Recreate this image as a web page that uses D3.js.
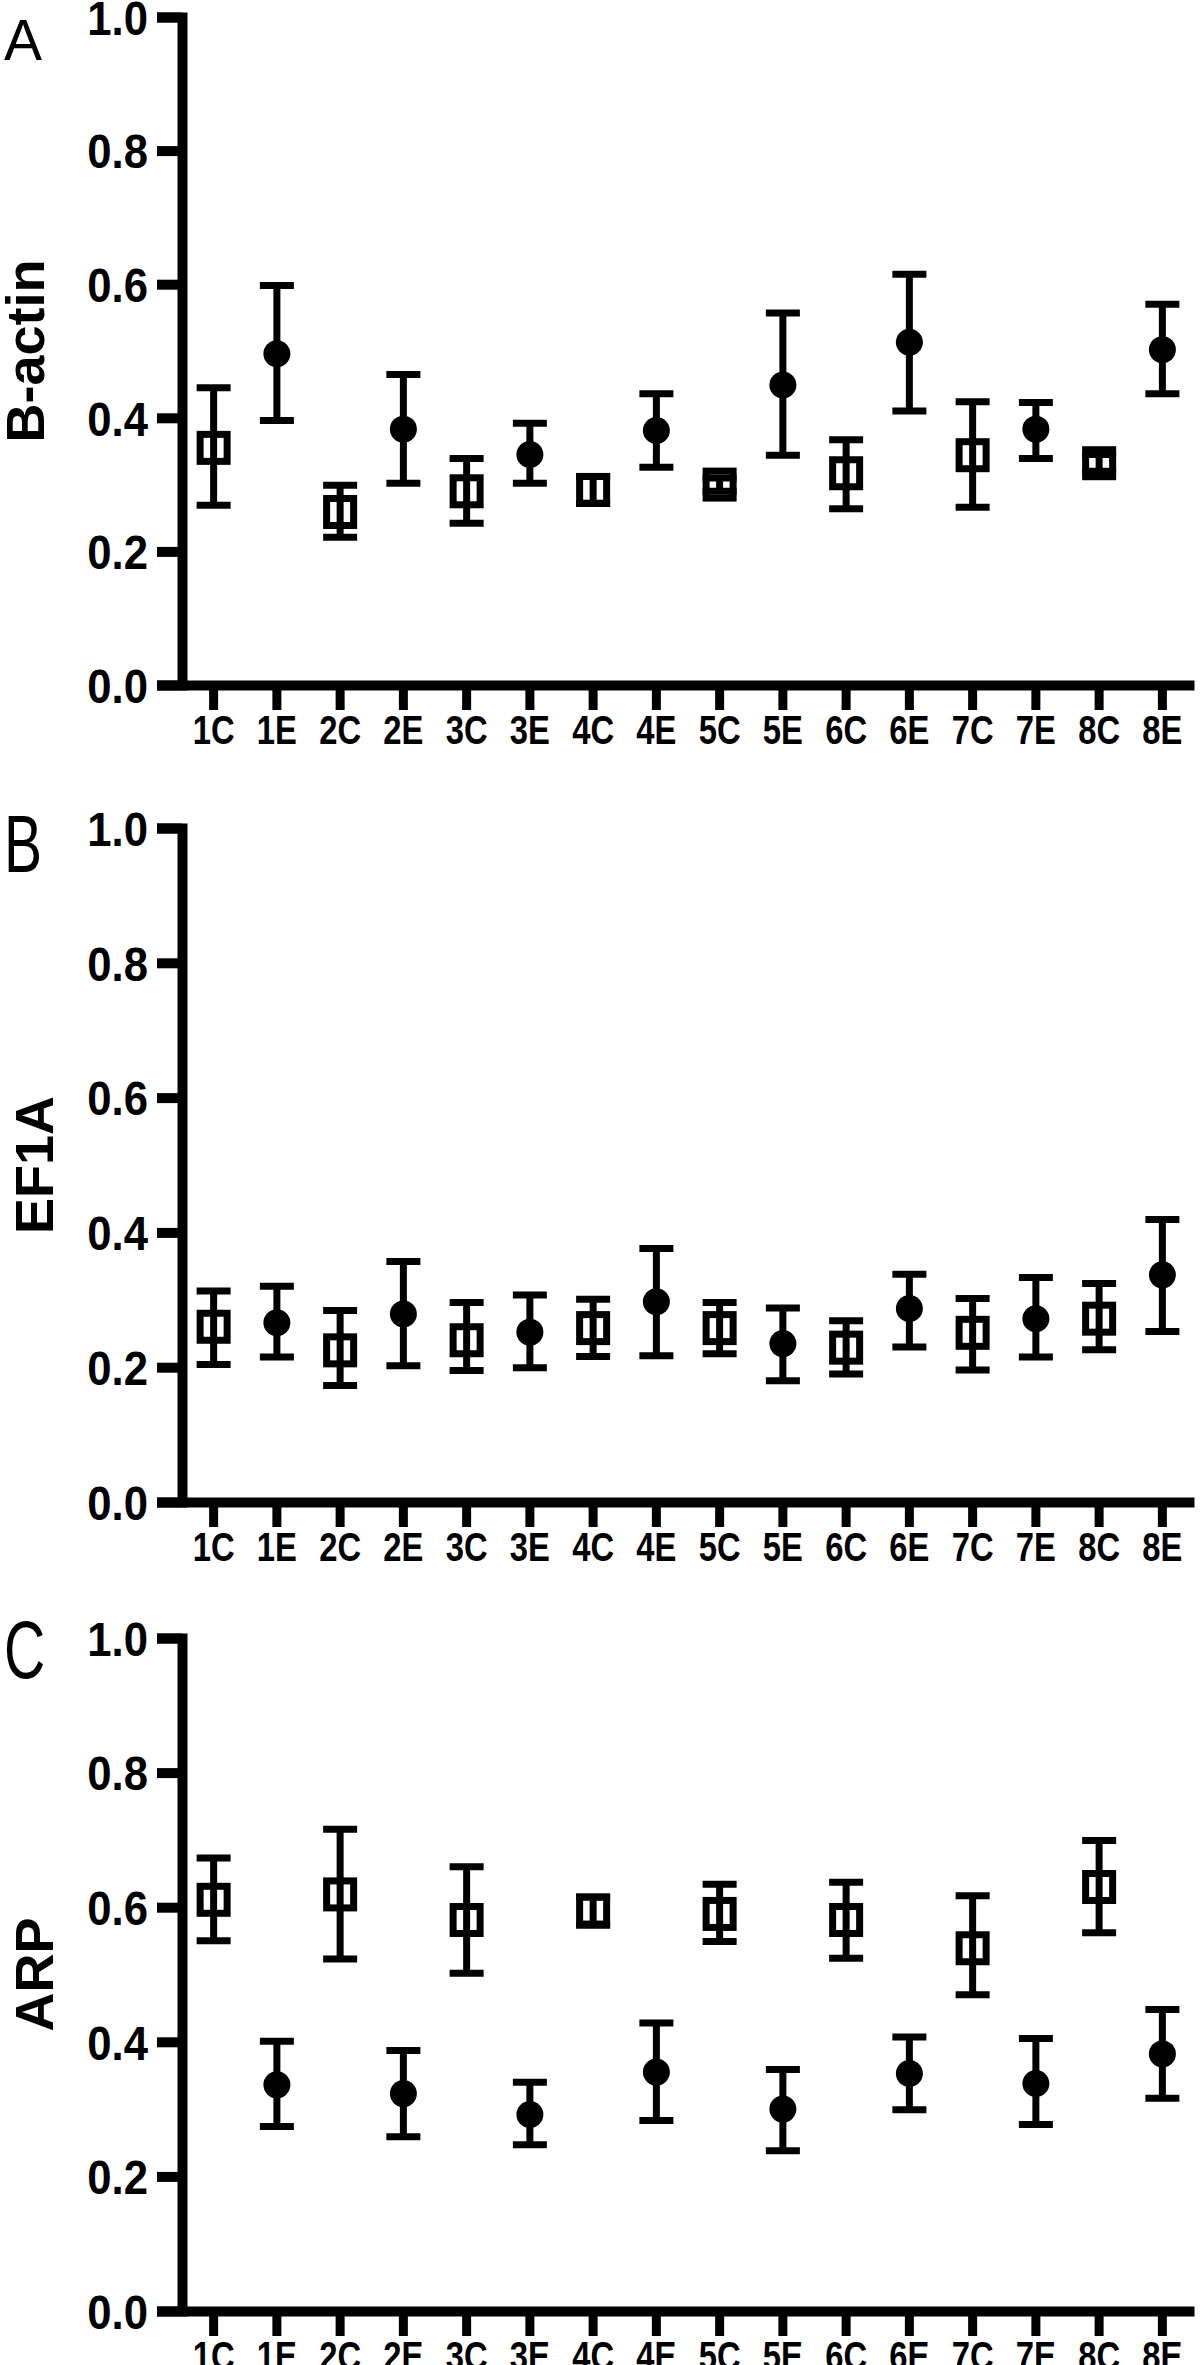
<!DOCTYPE html>
<html>
<head>
<meta charset="utf-8">
<script src="https://cdn.jsdelivr.net/npm/d3@7"></script>
<style>
  body { margin: 0; background: #fff; }
  svg text { font-family: Arial, 'Liberation Sans', Helvetica, sans-serif; fill: #000; }
</style>
</head>
<body>
<div id="chart-area"></div>
<script>
// samples: C = control (open square), E = treated (filled circle)
const categories = ['1C', '1E', '2C', '2E', '3C', '3E', '4C', '4E',
                    '5C', '5E', '6C', '6E', '7C', '7E', '8C', '8E']
const yTicks = [0, 0.2, 0.4, 0.6, 0.8, 1.0]

const actinMean = [0.355, 0.496, 0.259, 0.383, 0.290, 0.345, 0.292, 0.381,
                   0.300, 0.449, 0.317, 0.513, 0.344, 0.383, 0.332, 0.502]
const actinLow  = [0.269, 0.396, 0.221, 0.302, 0.242, 0.302, 0.272, 0.326,
                   0.290, 0.344, 0.264, 0.410, 0.266, 0.339, 0.320, 0.436]
const actinHigh = [0.445, 0.598, 0.299, 0.465, 0.339, 0.392, 0.312, 0.436,
                   0.310, 0.557, 0.367, 0.615, 0.424, 0.423, 0.345, 0.570]

const ef1aMean = [0.260, 0.266, 0.225, 0.279, 0.240, 0.252, 0.258, 0.297,
                  0.258, 0.235, 0.229, 0.287, 0.251, 0.272, 0.272, 0.337]
const ef1aLow  = [0.204, 0.215, 0.173, 0.202, 0.195, 0.199, 0.216, 0.217,
                  0.220, 0.180, 0.190, 0.230, 0.196, 0.215, 0.226, 0.253]
const ef1aHigh = [0.313, 0.320, 0.284, 0.357, 0.296, 0.307, 0.301, 0.376,
                  0.296, 0.288, 0.269, 0.338, 0.302, 0.333, 0.324, 0.419]

const arpMean = [0.611, 0.336, 0.619, 0.323, 0.581, 0.292, 0.595, 0.355,
                 0.590, 0.300, 0.581, 0.353, 0.539, 0.338, 0.630, 0.382]
const arpLow  = [0.550, 0.274, 0.523, 0.259, 0.502, 0.247, 0.573, 0.283,
                 0.549, 0.238, 0.524, 0.299, 0.470, 0.277, 0.562, 0.316]
const arpHigh = [0.673, 0.401, 0.716, 0.387, 0.660, 0.340, 0.615, 0.428,
                 0.634, 0.359, 0.637, 0.407, 0.617, 0.405, 0.699, 0.448]

// layout of the three stacked panels
const panels = [
    { letter: 'A', title: 'B-actin', mean: actinMean, low: actinLow, high: actinHigh,
      top: 17, bottom: 685, titleX: 44, letterY: 60, letterScale: 1.02 },
    { letter: 'B', title: 'EF1A', mean: ef1aMean, low: ef1aLow, high: ef1aHigh,
      top: 828, bottom: 1502, titleX: 53, letterY: 872, letterScale: 1.42 },
    { letter: 'C', title: 'ARP', mean: arpMean, low: arpLow, high: arpHigh,
      top: 1638, bottom: 2311, titleX: 53, letterY: 1678, letterScale: 1.42 }
]

const width = 1200
const height = 2365
const axisLeftX = 182
const axisRightX = 1194

const svg = d3.select('#chart-area')
              .append('svg')
              .attr('width', width)
              .attr('height', height)

svg.append('rect')
   .attr('width', width)
   .attr('height', height)
   .attr('fill', '#fff')

const x = d3.scaleBand()
            .domain(categories)
            .range([axisLeftX, axisRightX])

panels.forEach(p => {
    const data = categories.map((c, i) => ({
        cat: c,
        mean: p.mean[i],
        low: p.low[i],
        high: p.high[i],
        control: c.endsWith('C')
    }))

    const y = d3.scaleLinear()
                .domain([0, 1])
                .range([p.bottom, p.top])

    const g = svg.append('g')

    // panel letter
    g.append('text')
     .attr('transform', 'translate(' + 4 + ',' + p.letterY + ') scale(1,' + p.letterScale + ')')
     .attr('font-size', '57px')
     .text(p.letter)

    // y axis title
    g.append('text')
     .attr('transform', 'translate(' + p.titleX + ',' + (p.top + p.bottom) / 2 + ') rotate(-90)')
     .attr('text-anchor', 'middle')
     .attr('font-size', '54px')
     .attr('font-weight', 'bold')
     .text(p.title)

    const yAxisCall = d3.axisLeft(y)
                        .tickValues(yTicks)
                        .tickFormat(d3.format('.1f'))
                        .tickSizeInner(25)
                        .tickSizeOuter(25)
                        .tickPadding(9)

    const yAxis = g.append('g')
                   .attr('transform', 'translate(' + axisLeftX + ',0)')
                   .call(yAxisCall)
    yAxis.attr('font-family', null)
    yAxis.select('.domain').attr('stroke-width', 10).attr('stroke-linejoin', 'miter')
    yAxis.selectAll('.tick line').attr('stroke-width', 10)
    yAxis.selectAll('.tick text')
         .attr('font-size', '48px')
         .attr('font-weight', 'bold')
         .attr('x', -34 / 0.91)
         .attr('dy', '0.36em')
         .attr('transform', 'scale(0.91,1)')

    const xAxisCall = d3.axisBottom(x)
                        .tickSizeInner(25)
                        .tickSizeOuter(0)

    const xAxis = g.append('g')
                   .attr('transform', 'translate(0,' + p.bottom + ')')
                   .call(xAxisCall)
    xAxis.attr('font-family', null)
    xAxis.select('.domain').attr('stroke-width', 10)
    xAxis.selectAll('.tick line').attr('stroke-width', 9)
    xAxis.selectAll('.tick text')
         .attr('font-size', '40px')
         .attr('font-weight', 'bold')
         .attr('y', 59)
         .attr('dy', null)
         .attr('transform', 'scale(0.82,1)')

    const cx = d => x(d.cat) + x.bandwidth() / 2
    const capHalf = 17

    // error bars
    const bars = g.selectAll('.err')
                  .data(data)
                  .enter()
                  .append('g')
                  .attr('class', 'err')
                  .attr('stroke', '#000')
                  .attr('stroke-width', 7)

    bars.append('line')
        .attr('x1', cx).attr('x2', cx)
        .attr('y1', d => y(d.high)).attr('y2', d => y(d.low))
    bars.append('line')
        .attr('x1', d => cx(d) - capHalf).attr('x2', d => cx(d) + capHalf)
        .attr('y1', d => y(d.high)).attr('y2', d => y(d.high))
    bars.append('line')
        .attr('x1', d => cx(d) - capHalf).attr('x2', d => cx(d) + capHalf)
        .attr('y1', d => y(d.low)).attr('y2', d => y(d.low))

    // open squares for controls
    g.selectAll('.sq')
     .data(data.filter(d => d.control))
     .enter()
     .append('rect')
     .attr('class', 'sq')
     .attr('x', d => cx(d) - 13.5)
     .attr('y', d => y(d.mean) - 13.5)
     .attr('width', 27)
     .attr('height', 27)
     .attr('fill', 'none')
     .attr('stroke', '#000')
     .attr('stroke-width', 7)

    // filled circles for treated
    g.selectAll('.dot')
     .data(data.filter(d => !d.control))
     .enter()
     .append('circle')
     .attr('class', 'dot')
     .attr('cx', cx)
     .attr('cy', d => y(d.mean))
     .attr('r', 13.5)
     .attr('fill', '#000')
})
</script>
</body>
</html>
